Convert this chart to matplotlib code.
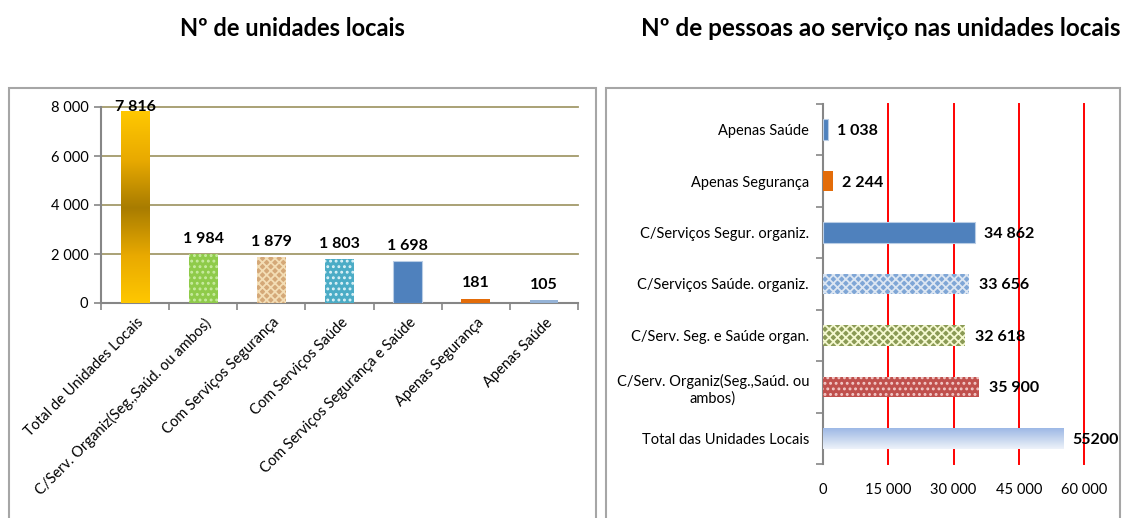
import matplotlib
matplotlib.use("Agg")
import matplotlib.pyplot as plt
import matplotlib.transforms as mtransforms
import numpy as np
from matplotlib.colors import LinearSegmentedColormap
from matplotlib.patches import Rectangle

plt.rcParams['font.family'] = ['Lato', 'DejaVu Sans']
plt.rcParams['hatch.linewidth'] = 1.3

# ---------------- data ----------------
left_title = "Nº de unidades locais"
left_categories = ["Total de Unidades Locais", "C/Serv. Organiz(Seg.,Saúd. ou ambos)",
                   "Com Serviços Segurança", "Com Serviços Saúde",
                   "Com Serviços Segurança e Saúde", "Apenas Segurança", "Apenas Saúde"]
left_values = [7816, 1984, 1879, 1803, 1698, 181, 105]
left_labels = ["7 816", "1 984", "1 879", "1 803", "1 698", "181", "105"]
left_yticks = [0, 2000, 4000, 6000, 8000]
left_yticklabels = ["0", "2 000", "4 000", "6 000", "8 000"]

right_title = "Nº de pessoas ao serviço nas unidades locais"
right_categories = ["Total das Unidades Locais", "C/Serv. Organiz(Seg.,Saúd. ou\nambos)",
                    "C/Serv. Seg. e Saúde organ.", "C/Serviços Saúde. organiz.",
                    "C/Serviços Segur. organiz.", "Apenas Segurança", "Apenas Saúde"]
right_values = [55200, 35900, 32618, 33656, 34862, 2244, 1038]
right_labels = ["55200", "35 900", "32 618", "33 656", "34 862", "2 244", "1 038"]
right_xticks = [0, 15000, 30000, 45000, 60000]
right_xticklabels = ["0", "15 000", "30 000", "45 000", "60 000"]

W, H = 1132, 518
fig = plt.figure(figsize=(W / 100, H / 100), dpi=100)

def fx(px):
    return px / W

def fy(py):
    return 1 - py / H

# outer frames
for x0, x1 in [(9, 596), (606, 1120)]:
    fig.patches.append(Rectangle((fx(x0), fy(530)), fx(x1) - fx(x0), fy(88) - fy(530),
                                 transform=fig.transFigure, fill=False,
                                 edgecolor='#A6A6A6', linewidth=1.5))

fig.text(fx(292), fy(28), left_title, ha='center', va='center', fontsize=17, fontweight='bold')
fig.text(fx(881), fy(28), right_title, ha='center', va='center', fontsize=17.5, fontweight='bold')

axis_grey = '#868686'
grad = np.linspace(0, 1, 256).reshape(-1, 1)

# ---------------- left chart ----------------
ax1 = fig.add_axes([fx(101), fy(303), fx(578) - fx(101), fy(107) - fy(303)])
x = np.arange(len(left_values))
bw = 0.42
left_styles = [
    dict(color='#FFC000'),
    dict(facecolor='#8FCB4A', hatch='...', edgecolor='#C8EBA0'),
    dict(facecolor='#D4A878', hatch='xxxx', edgecolor='#F3DDB5'),
    dict(facecolor='#4BACC6', hatch='...', edgecolor='#DDF2F7'),
    dict(facecolor='#4F81BD', edgecolor='#B9CDE5'),
    dict(color='#E36C09'),
    dict(facecolor='#95B3D7', edgecolor='#C6D5EA'),
]
bars = []
for i, (v, st) in enumerate(zip(left_values, left_styles)):
    b = ax1.bar(x[i], v, width=bw, linewidth=0.8 if i == 4 else 0, zorder=3, **st)
    bars.append(b[0])

# gradient for total bar
gold = LinearSegmentedColormap.from_list('gold', ['#FFC800', '#E9AA00', '#A87C00', '#E9AA00', '#FFC800'])
b0 = bars[0]
ax1.imshow(grad, cmap=gold, aspect='auto', origin='lower',
           extent=[b0.get_x(), b0.get_x() + b0.get_width(), -60, b0.get_height()], zorder=4)
b0.set_visible(False)

ax1.set_xlim(-0.5, len(left_values) - 0.5)
ax1.set_ylim(0, 8000)
ax1.set_yticks(left_yticks)
ax1.set_yticklabels(left_yticklabels, fontsize=10.5)
for yv in left_yticks[1:]:
    ax1.axhline(yv, color='#A39A6A', linewidth=1.3, zorder=0, clip_on=False)
for s in ['top', 'right']:
    ax1.spines[s].set_visible(False)
for s in ['left', 'bottom']:
    ax1.spines[s].set_color(axis_grey)
    ax1.spines[s].set_linewidth(1.5)
ax1.tick_params(axis='y', length=5, color=axis_grey, width=1.2, pad=4)
ax1.set_xticks(np.arange(-0.5, len(left_values)), minor=False)
ax1.set_xticklabels([])
ax1.tick_params(axis='x', which='major', length=5, color=axis_grey, width=1.2)
ax1.set_xticks(x, minor=True)
ax1.set_xticklabels(left_categories, minor=True, rotation=45, ha='right', va='top',
                    rotation_mode='anchor', fontsize=10.5)
ax1.tick_params(axis='x', which='minor', length=0, pad=9)
for lab in ax1.get_xticklabels(minor=True):
    lab.set_transform(lab.get_transform() + mtransforms.ScaledTranslation(1 / 100, 0, fig.dpi_scale_trans))

for i, (v, t) in enumerate(zip(left_values, left_labels)):
    yv = min(v + 620, 7990)
    ax1.text(x[i], yv, t, ha='center', va='center',
             fontsize=11.5, fontweight='bold', zorder=6, clip_on=False)

# ---------------- right chart ----------------
ax2 = fig.add_axes([fx(823), fy(464), fx(1084) - fx(823), fy(104) - fy(464)])
y = np.arange(len(right_values))
bh = 0.40
right_styles = [
    dict(color='#B9CDE5'),
    dict(facecolor='#C0504D', hatch='...', edgecolor='#F2C9C8'),
    dict(facecolor='#8A9A55', hatch='xxxx', edgecolor='#F4F8D0'),
    dict(facecolor='#7FA6D6', hatch='xxxx', edgecolor='#DCE6F2'),
    dict(facecolor='#4F81BD', edgecolor='#B9CDE5'),
    dict(color='#E36C09'),
    dict(facecolor='#4F81BD', edgecolor='#B9CDE5'),
]
rbars = []
for i, (v, st) in enumerate(zip(right_values, right_styles)):
    lw = 0.8 if i in (4, 6) else 0
    b = ax2.barh(y[i], v, height=bh, linewidth=lw, zorder=3, **st)
    rbars.append(b[0])

blue = LinearSegmentedColormap.from_list('blu', ['#EEF3FA', '#C5D5EE', '#9DB8E6'])
r0 = rbars[0]
ax2.imshow(grad, cmap=blue, aspect='auto', origin='lower',
           extent=[0, r0.get_width(), r0.get_y(), r0.get_y() + r0.get_height()], zorder=4)
r0.set_visible(False)

ax2.set_ylim(-0.5, len(right_values) - 0.5)
ax2.set_xlim(0, 60000)
ax2.set_xticks(right_xticks)
ax2.set_xticklabels(right_xticklabels, fontsize=10.5)
for xv in right_xticks[1:]:
    ax2.axvline(xv, color='#FF0000', linewidth=1.4, zorder=1, clip_on=False)
for s in ['top', 'right', 'bottom']:
    ax2.spines[s].set_visible(False)
ax2.spines['left'].set_color(axis_grey)
ax2.spines['left'].set_linewidth(1.5)
ax2.tick_params(axis='x', length=0, pad=14)
ax2.set_yticks(np.arange(-0.5, len(right_values)))
ax2.set_yticklabels([])
ax2.tick_params(axis='y', which='major', length=5, color=axis_grey, width=1.2)
ax2.set_yticks(y, minor=True)
ax2.set_yticklabels(right_categories, minor=True, fontsize=10.5)
for lab in ax2.get_yticklabels(minor=True):
    lab.set_multialignment('center')
ax2.tick_params(axis='y', which='minor', length=0, pad=10)

for i, (v, t) in enumerate(zip(right_values, right_labels)):
    ax2.annotate(t, (v, y[i]), xytext=(7, -1), textcoords='offset points',
                 ha='left', va='center', fontsize=11.5, fontweight='bold', zorder=6,
                 annotation_clip=False)

fig.savefig("out.png", dpi=100)
